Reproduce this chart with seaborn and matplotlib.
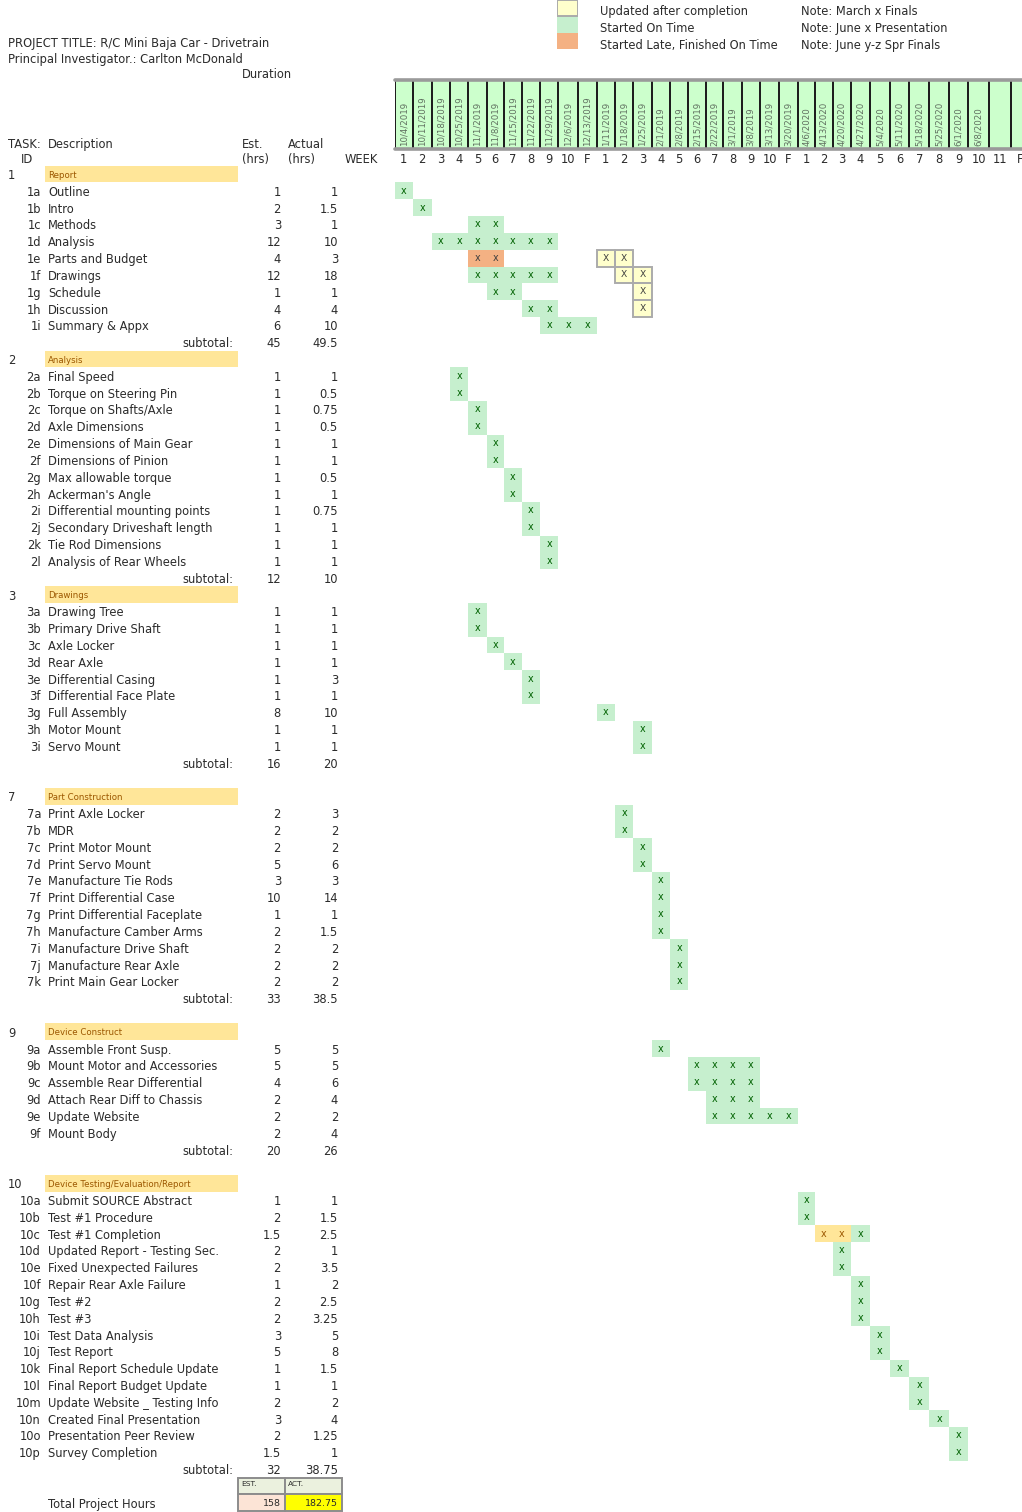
import numpy as np
import pandas as pd
import matplotlib
matplotlib.use("Agg")
import matplotlib.pyplot as plt
from matplotlib.colors import ListedColormap
from matplotlib.patches import Rectangle
import seaborn as sns

sns.set_theme(style="white")
plt.rcParams["font.family"] = ["DejaVu Sans"]

# ---------------------------------------------------------------- data
PROJECT_TITLE = "PROJECT TITLE: R/C Mini Baja Car - Drivetrain"
INVESTIGATOR = "Principal Investigator.: Carlton McDonald"

WEEK_LABELS = ["1", "2", "3", "4", "5", "6", "7", "8", "9", "10", "F",
               "1", "2", "3", "4", "5", "6", "7", "8", "9", "10", "F",
               "1", "2", "3", "4", "5", "6", "7", "8", "9", "10", "11", "F"]
WEEK_DATES = ["10/4/2019", "10/11/2019", "10/18/2019", "10/25/2019", "11/1/2019",
              "11/8/2019", "11/15/2019", "11/22/2019", "11/29/2019", "12/6/2019",
              "12/13/2019", "1/11/2019", "1/18/2019", "1/25/2019", "2/1/2019",
              "2/8/2019", "2/15/2019", "2/22/2019", "3/1/2019", "3/8/2019",
              "3/13/2019", "3/20/2019", "4/6/2020", "4/13/2020", "4/20/2020",
              "4/27/2020", "5/4/2020", "5/11/2020", "5/18/2020", "5/25/2020",
              "6/1/2020", "6/8/2020", "", ""]

SECTION_NUMS = ["1", "2", "3", "7", "9", "10"]
SECTION_NAMES = ["Report", "Analysis", "Drawings", "Part Construction",
                 "Device Construct", "Device Testing/Evaluation/Report"]
SECTION_GAP_AFTER = [0, 0, 1, 1, 1, 0]
SUBTOTAL_EST = ["45", "12", "16", "33", "20", "32"]
SUBTOTAL_ACT = ["49.5", "10", "20", "38.5", "26", "38.75"]
TOTAL_EST = "158"
TOTAL_ACT = "182.75"

REPORT_DESC = ["Outline", "Intro", "Methods", "Analysis", "Parts and Budget",
               "Drawings", "Schedule", "Discussion", "Summary & Appx"]
REPORT_EST = [1, 2, 3, 12, 4, 12, 1, 4, 6]
REPORT_ACT = [1, 1.5, 1, 10, 3, 18, 1, 4, 10]
REPORT_WEEKS = [[0], [1], [4, 5], [2, 3, 4, 5, 6, 7, 8], [], [4, 5, 6, 7, 8],
                [5, 6], [7, 8], [8, 9, 10]]

ANALYSIS_DESC = ["Final Speed", "Torque on Steering Pin", "Torque on Shafts/Axle",
                 "Axle Dimensions", "Dimensions of Main Gear", "Dimensions of Pinion",
                 "Max allowable torque", "Ackerman's Angle",
                 "Differential mounting points", "Secondary Driveshaft length",
                 "Tie Rod Dimensions", "Analysis of Rear Wheels"]
ANALYSIS_EST = [1, 1, 1, 1, 1, 1, 1, 1, 1, 1, 1, 1]
ANALYSIS_ACT = [1, 0.5, 0.75, 0.5, 1, 1, 0.5, 1, 0.75, 1, 1, 1]
ANALYSIS_WEEKS = [[3], [3], [4], [4], [5], [5], [6], [6], [7], [7], [8], [8]]

DRAWINGS_DESC = ["Drawing Tree", "Primary Drive Shaft", "Axle Locker", "Rear Axle",
                 "Differential Casing", "Differential Face Plate", "Full Assembly",
                 "Motor Mount", "Servo Mount"]
DRAWINGS_EST = [1, 1, 1, 1, 1, 1, 8, 1, 1]
DRAWINGS_ACT = [1, 1, 1, 1, 3, 1, 10, 1, 1]
DRAWINGS_WEEKS = [[4], [4], [5], [6], [7], [7], [11], [13], [13]]

PARTS_DESC = ["Print Axle Locker", "MDR", "Print Motor Mount", "Print Servo Mount",
              "Manufacture Tie Rods", "Print Differential Case",
              "Print Differential Faceplate", "Manufacture Camber Arms",
              "Manufacture Drive Shaft", "Manufacture Rear Axle",
              "Print Main Gear Locker"]
PARTS_EST = [2, 2, 2, 5, 3, 10, 1, 2, 2, 2, 2]
PARTS_ACT = [3, 2, 2, 6, 3, 14, 1, 1.5, 2, 2, 2]
PARTS_WEEKS = [[12], [12], [13], [13], [14], [14], [14], [14], [15], [15], [15]]

BUILD_DESC = ["Assemble Front Susp.", "Mount Motor and Accessories",
              "Assemble Rear Differential", "Attach Rear Diff to Chassis",
              "Update Website", "Mount Body"]
BUILD_EST = [5, 5, 4, 2, 2, 2]
BUILD_ACT = [5, 5, 6, 4, 2, 4]
BUILD_WEEKS = [[14], [16, 17, 18, 19], [16, 17, 18, 19], [17, 18, 19],
               [17, 18, 19, 20, 21], []]

TESTING_DESC = ["Submit SOURCE Abstract", "Test #1 Procedure", "Test #1 Completion",
                "Updated Report - Testing Sec.", "Fixed Unexpected Failures",
                "Repair Rear Axle Failure", "Test #2", "Test #3",
                "Test Data Analysis", "Test Report", "Final Report Schedule Update",
                "Final Report Budget Update", "Update Website _ Testing Info",
                "Created Final Presentation", "Presentation Peer Review",
                "Survey Completion"]
TESTING_EST = [1, 2, 1.5, 2, 2, 1, 2, 2, 3, 5, 1, 1, 2, 3, 2, 1.5]
TESTING_ACT = [1, 1.5, 2.5, 1, 3.5, 2, 2.5, 3.25, 5, 8, 1.5, 1, 2, 4, 1.25, 1]
TESTING_WEEKS = [[22], [22], [25], [24], [24], [25], [25], [25], [26], [26],
                 [27], [28], [28], [29], [30], [30]]

# week cells outside the "started on time" status
STARTED_LATE = {"1e": [4, 5]}
UPDATED_AFTER = {"1e": [11, 12], "1f": [12, 13], "1g": [13], "1h": [13]}
RUNNING_LATE = {"10c": [23, 24]}

LEGEND_TEXT = ["Updated after completion", "Started On Time",
               "Started Late, Finished On Time"]
NOTES = ["Note: March x Finals", "Note: June x Presentation",
         "Note: June y-z Spr Finals"]

# ---------------------------------------------------------------- styling / layout
W, H = 1022, 1512
ROW0, ROW_H = 174.0, 16.82
TEXT = "#2b2b2b"
GREEN, GREEN_TXT = "#C6EFCE", "#006100"
ORANGE = "#F4B183"
PALE, PALE_EDGE = "#FFFFCC", "#ababab"
GOLD, GOLD_TXT = "#FFE699", "#9C5700"
SECTION_FILL, SECTION_TXT = "#FFE699", "#9C5700"
HEAD_GREEN = "#CCFFCC"
FS = 8.3
# column boundaries of the week grid (spreadsheet column widths), in pixels
COL_EDGES = np.array([395, 412.7, 431.7, 450, 468.3, 486.7, 504, 521.7, 540, 558.3,
                      578.3, 596.7, 615, 633.3, 651.7, 670, 688.3, 705.5, 723.3,
                      741.7, 760, 779.3, 797.7, 815, 832.7, 850.7, 870, 890, 909.3,
                      929.3, 949.3, 968.3, 989.3, 1010.7, 1030])
N_COLS = len(WEEK_LABELS)

sections = [
    (REPORT_DESC, REPORT_EST, REPORT_ACT, REPORT_WEEKS),
    (ANALYSIS_DESC, ANALYSIS_EST, ANALYSIS_ACT, ANALYSIS_WEEKS),
    (DRAWINGS_DESC, DRAWINGS_EST, DRAWINGS_ACT, DRAWINGS_WEEKS),
    (PARTS_DESC, PARTS_EST, PARTS_ACT, PARTS_WEEKS),
    (BUILD_DESC, BUILD_EST, BUILD_ACT, BUILD_WEEKS),
    (TESTING_DESC, TESTING_EST, TESTING_ACT, TESTING_WEEKS),
]

n_rows = sum(len(s[0]) + 2 for s in sections) + sum(SECTION_GAP_AFTER) + 2
status = np.zeros((n_rows, N_COLS), dtype=int)


def fmt(v):
    return f"{v:g}"


def row_y(i):
    return ROW0 + ROW_H * i


fig = plt.figure(figsize=(W / 100, H / 100), dpi=100)
fig.patch.set_facecolor("white")


def px_axes(left, top, right, bottom, **kw):
    return fig.add_axes([left / W, 1 - bottom / H, (right - left) / W, (bottom - top) / H], **kw)


canvas = px_axes(0, 0, W, H)
canvas.set_xlim(0, W)
canvas.set_ylim(H, 0)
canvas.set_axis_off()


def put(x, y, s, ha="left", size=FS, color=TEXT, **kw):
    canvas.text(x, y, s, ha=ha, va="center_baseline", fontsize=size, color=color, **kw)


# ---------------------------------------------------------------- table
r = 0
for k, (desc, est, act, weeks) in enumerate(sections):
    y = row_y(r)
    put(8, y, SECTION_NUMS[k])
    canvas.add_patch(Rectangle((45, y - ROW_H / 2), 193, ROW_H, color=SECTION_FILL, lw=0))
    put(48, y, SECTION_NAMES[k], size=6.2, color=SECTION_TXT)
    r += 1
    for j, (d, e, a, wk) in enumerate(zip(desc, est, act, weeks)):
        tid = SECTION_NUMS[k] + "abcdefghijklmnop"[j]
        y = row_y(r)
        put(41, y, tid, ha="right")
        put(48, y, d)
        put(281, y, fmt(e), ha="right")
        put(338, y, fmt(a), ha="right")
        status[r, wk] = 1
        status[r, STARTED_LATE.get(tid, [])] = 2
        status[r, UPDATED_AFTER.get(tid, [])] = 3
        status[r, RUNNING_LATE.get(tid, [])] = 4
        r += 1
    y = row_y(r)
    put(233, y, "subtotal:", ha="right")
    put(281, y, SUBTOTAL_EST[k], ha="right")
    put(338, y, SUBTOTAL_ACT[k], ha="right")
    r += 1 + SECTION_GAP_AFTER[k]

# totals block
y_hdr, y_tot = row_y(r), row_y(r + 1)
for x0, x1, fill_h, fill_t in [(238, 285, "#EBF1DE", "#FCE4D6"), (285, 342, "#EBF1DE", "#FFFF00")]:
    canvas.add_patch(Rectangle((x0, y_hdr - ROW_H / 2), x1 - x0, ROW_H, fc=fill_h, ec="#8c8c8c", lw=1.4))
    canvas.add_patch(Rectangle((x0, y_tot - ROW_H / 2), x1 - x0, ROW_H, fc=fill_t, ec="#8c8c8c", lw=1.4))
put(241, y_hdr - 2, "EST.", size=5.4)
put(288, y_hdr - 2, "ACT.", size=5.4)
put(281, y_tot, TOTAL_EST, ha="right", size=6.8)
put(338, y_tot, TOTAL_ACT, ha="right", size=6.8)
put(48, y_tot, "Total Project Hours")

# header texts
put(8, 42, PROJECT_TITLE)
put(8, 58, INVESTIGATOR)
put(242, 73, "Duration")
put(8, 143, "TASK:")
put(48, 143, "Description")
put(21, 158, "ID")
put(242, 143, "Est.")
put(242, 158, "(hrs)")
put(288, 143, "Actual")
put(288, 158, "(hrs)")
put(345, 158, "WEEK")

for i, (t, n) in enumerate(zip(LEGEND_TEXT, NOTES)):
    put(600, 8 + 17 * i + 2, t)
    put(801, 8 + 17 * i + 2, n)


# ---------------------------------------------------------------- week scale
ext_idx = np.concatenate([[-50], np.arange(N_COLS + 1), [N_COLS + 50]])
ext_px = np.concatenate([[COL_EDGES[0] - 50 * 18.4], COL_EDGES, [COL_EDGES[-1] + 50 * 18.4]])


def col_fwd(x):
    return np.interp(x, ext_idx, ext_px)


def col_inv(p):
    return np.interp(p, ext_px, ext_idx)


def use_week_scale(ax):
    ax.set_xscale("function", functions=(col_fwd, col_inv))
    ax.set_xlim(0, N_COLS)
    ax.set_xticks([])
    ax.set_yticks([])
    for sp in ax.spines.values():
        sp.set_visible(False)


# code, fill, mark colour, mark glyph, mark size, outlined
LAYERS = [
    (1, GREEN, GREEN_TXT, "x", 6.9, False),
    (2, ORANGE, "#3f3f3f", "x", 6.9, False),
    (4, GOLD, GOLD_TXT, "x", 6.9, False),
    (3, PALE, "#3f3f3f", "X", 6.6, True),
]


def status_layers(ax, codes, labels=True):
    for code, fill, txt, glyph, size, outlined in LAYERS:
        sel = codes == code
        if not sel.any():
            continue
        sns.heatmap(pd.DataFrame(sel.astype(float)), mask=~sel,
                    cmap=ListedColormap([fill]), vmin=0, vmax=1,
                    annot=np.where(sel, glyph, "") if labels else False, fmt="",
                    annot_kws=dict(color=txt, fontsize=size),
                    linewidths=0, cbar=False,
                    xticklabels=False, yticklabels=False, ax=ax)
        if outlined:
            for rr, cc in np.argwhere(sel):
                ax.add_patch(Rectangle((cc, rr), 1, 1, fill=False, ec=PALE_EDGE, lw=1.4, zorder=3))


# gantt grid
top = ROW0 - ROW_H / 2
gantt = px_axes(COL_EDGES[0], top, COL_EDGES[-1], top + n_rows * ROW_H)
gantt.patch.set_alpha(0)
status_layers(gantt, status)
gantt.set_ylim(n_rows, 0)
use_week_scale(gantt)

# week header band
head = px_axes(COL_EDGES[0], 80, COL_EDGES[-1], 149)
sns.heatmap(np.ones((1, N_COLS)), cmap=ListedColormap([HEAD_GREEN]), vmin=0, vmax=1,
            linewidths=1.1, linecolor="#1e1e1e", cbar=False,
            xticklabels=False, yticklabels=False, ax=head)
use_week_scale(head)
head.axhline(0, color="#9a9a9a", lw=2.6, clip_on=False)
head.axhline(1, color="#9a9a9a", lw=2.6, clip_on=False)
for j, (d, wl) in enumerate(zip(WEEK_DATES, WEEK_LABELS)):
    head.text(j + 0.5, 0.96, d, rotation=90, ha="center", va="bottom",
              fontsize=6.2, color="#5f6f5f")
    head.text(j + 0.5, 1.13, wl, ha="center", va="center_baseline",
              fontsize=FS, color=TEXT, clip_on=False)

# status legend swatches
leg = px_axes(557, 0, 578, 49)
leg_codes = np.array([[3], [1], [2]])
status_layers(leg, leg_codes, labels=False)
leg.set_xticks([])
leg.set_yticks([])
for sp in leg.spines.values():
    sp.set_visible(False)

fig.savefig("out.png", dpi=100, facecolor="white")
